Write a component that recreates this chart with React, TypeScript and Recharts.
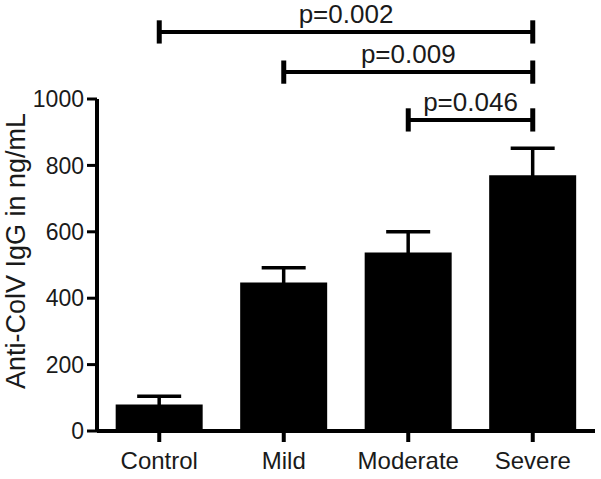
import React from 'react';
import { BarChart, Bar, XAxis, YAxis, ErrorBar, ReferenceLine } from 'recharts';

const categories = ['Control', 'Mild', 'Moderate', 'Severe'];
const means = [80, 447, 538, 770];
const errors = [25, 45, 62, 82];
const yTicks = [0, 200, 400, 600, 800, 1000];
const compFrom = ['Control', 'Mild', 'Moderate'];
const compTo = ['Severe', 'Severe', 'Severe'];
const compLabels = ['p=0.002', 'p=0.009', 'p=0.046'];
const compLevels = [1202, 1081, 937];
const capHalf = 35;

const data = categories.map((c, i) => ({ name: c, value: means[i], err: errors[i] }));

const FONT = '"Liberation Sans", Arial, Helvetica, sans-serif';
const INK = '#000';
const TXT = '#1a1a1a';

const YTitle = (props: any) => {
  const vb = props.viewBox || { x: 0, y: 0, width: 0, height: 0 };
  const cx = vb.x + 16;
  const cy = vb.y + vb.height / 2 - 14;
  return (
    <text
      x={cx}
      y={cy}
      transform={`rotate(-90, ${cx}, ${cy})`}
      textAnchor="middle"
      dominantBaseline="central"
      fontFamily={FONT}
      fontSize={27}
      fill={TXT}
    >
      Anti-ColV IgG in ng/mL
    </text>
  );
};

export default function App() {
  return (
    <div style={{ position: 'absolute', left: 0, top: 0, width: 601, height: 479, background: '#fff' }}>
      <BarChart
        width={601}
        height={479}
        data={data}
        margin={{ top: 99, right: 6, left: 0, bottom: 0 }}
        barCategoryGap="15%"
      >
        <XAxis
          dataKey="name"
          height={48}
          axisLine={{ stroke: INK, strokeWidth: 4 }}
          tickLine={{ stroke: INK, strokeWidth: 4 }}
          tickSize={11}
          tickMargin={10}
          tick={{ fill: TXT, fontSize: 24, fontFamily: FONT }}
          interval={0}
        />
        <YAxis
          width={97}
          domain={[0, 1000]}
          ticks={yTicks}
          allowDataOverflow
          axisLine={{ stroke: INK, strokeWidth: 4 }}
          tickLine={{ stroke: INK, strokeWidth: 3 }}
          tickSize={10}
          tickMargin={3}
          tick={{ fill: TXT, fontSize: 23, fontFamily: FONT }}
          label={<YTitle />}
        />
        <Bar dataKey="value" fill={INK} isAnimationActive={false}>
          <ErrorBar dataKey="err" width={22} stroke={INK} strokeWidth={3.5} direction="y" />
        </Bar>
        {compLabels.map((lab, i) => (
          <ReferenceLine
            key={'h' + i}
            ifOverflow="visible"
            stroke={INK}
            strokeWidth={4}
            segment={[
              { x: compFrom[i], y: compLevels[i] },
              { x: compTo[i], y: compLevels[i] },
            ]}
            label={{ value: lab, position: 'top', offset: 9, fill: TXT, fontSize: 26, fontFamily: FONT }}
          />
        ))}
        {compLabels.map((lab, i) => (
          <ReferenceLine
            key={'a' + i}
            ifOverflow="visible"
            stroke={INK}
            strokeWidth={5}
            segment={[
              { x: compFrom[i], y: compLevels[i] - capHalf },
              { x: compFrom[i], y: compLevels[i] + capHalf },
            ]}
          />
        ))}
        {compLabels.map((lab, i) => (
          <ReferenceLine
            key={'b' + i}
            ifOverflow="visible"
            stroke={INK}
            strokeWidth={5}
            segment={[
              { x: compTo[i], y: compLevels[i] - capHalf },
              { x: compTo[i], y: compLevels[i] + capHalf },
            ]}
          />
        ))}
      </BarChart>
    </div>
  );
}
